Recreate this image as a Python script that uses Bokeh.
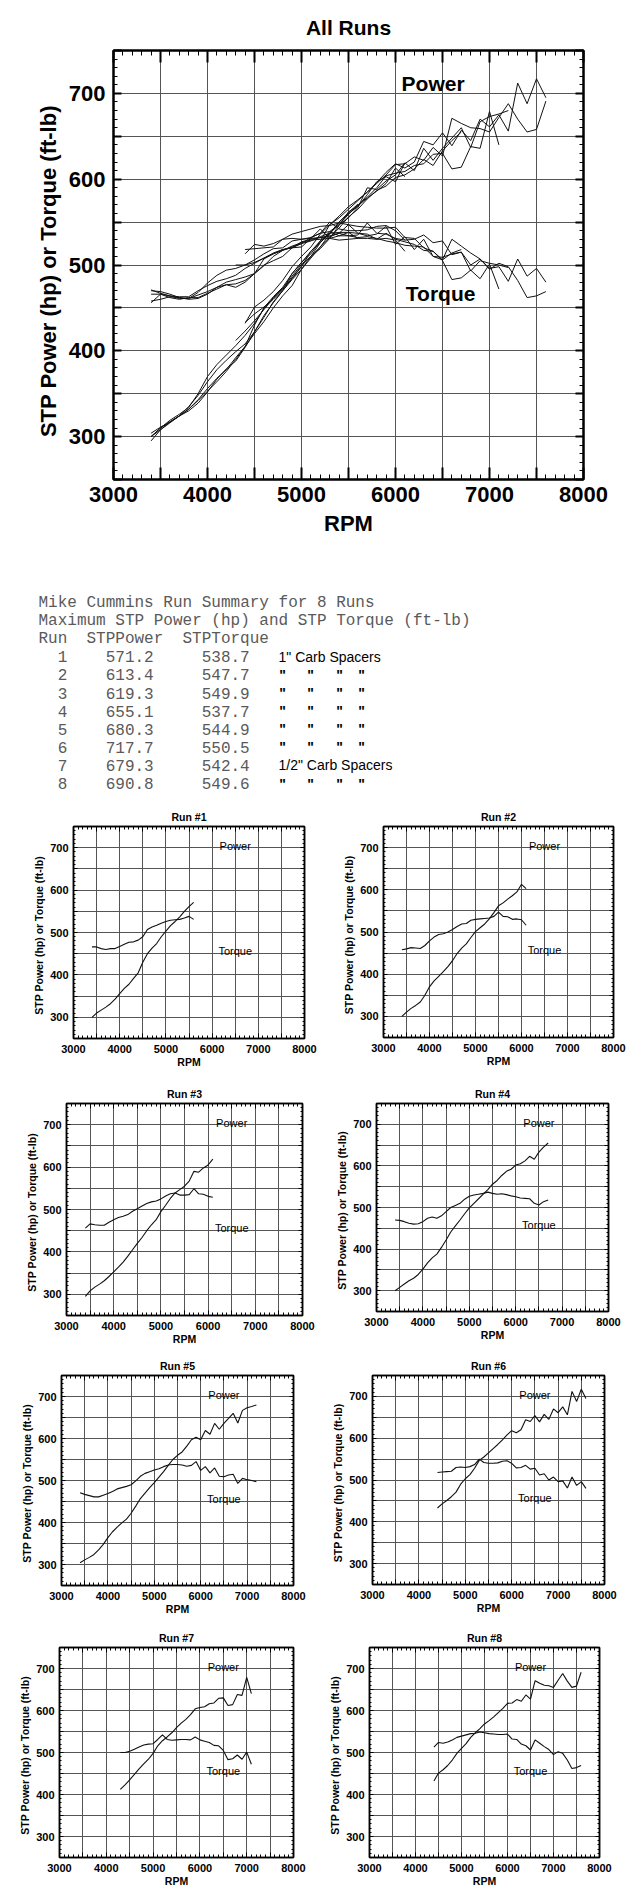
from bokeh.plotting import figure
from bokeh.layouts import column, row
from bokeh.models import Range1d, LinearAxis, FixedTicker, CustomJSTickFormatter
from bokeh.core.properties import value
from bokeh.embed import file_html
from bokeh.resources import INLINE

# ---------------- data (read from the dyno sheets) ----------------
rpm_1 = [3400, 3500, 3600, 3700, 3800, 3900, 4000, 4100, 4200, 4300, 4400, 4500, 4600, 4700, 4800, 4900,
         5000, 5100, 5200, 5300, 5400, 5500, 5600]
power_1 = [300, 310, 317, 324, 332, 343, 356, 368, 378, 392, 405, 430, 450, 463, 474, 490,
           503, 516, 526, 537, 550, 561, 571]
torque_1 = [466, 466, 462, 460, 462, 462, 467, 472, 477, 478, 482, 490, 507, 513, 517, 522,
            526, 529, 530, 531, 534, 538, 531]

rpm_2 = [3400, 3500, 3600, 3700, 3800, 3900, 4000, 4100, 4200, 4300, 4400, 4500, 4600, 4700, 4800, 4900,
         5000, 5100, 5200, 5300, 5400, 5500, 5600, 5700, 5800, 5900, 6000, 6100]
power_2 = [300, 310, 319, 326, 334, 350, 370, 384, 395, 406, 418, 432, 449, 462, 472, 487,
           501, 510, 519, 531, 546, 562, 569, 578, 586, 595, 613, 603]
torque_2 = [458, 460, 463, 462, 461, 468, 479, 488, 494, 496, 500, 506, 513, 519, 520, 528,
            530, 531, 532, 533, 537, 547, 537, 536, 530, 531, 529, 516]

rpm_3 = [3400, 3500, 3600, 3700, 3800, 3900, 4000, 4100, 4200, 4300, 4400, 4500, 4600, 4700, 4800, 4900,
         5000, 5100, 5200, 5300, 5400, 5500, 5600, 5700, 5800, 5900, 6000, 6100]
power_3 = [295, 308, 317, 324, 332, 342, 353, 364, 376, 390, 405, 420, 434, 450, 464, 476,
           495, 510, 526, 539, 547, 555, 567, 590, 588, 598, 605, 619]
torque_3 = [456, 466, 464, 463, 463, 470, 476, 481, 484, 488, 496, 502, 508, 514, 518, 520,
            525, 532, 537, 539, 534, 534, 535, 549, 537, 536, 531, 529]

rpm_4 = [3400, 3500, 3600, 3700, 3800, 3900, 4000, 4100, 4200, 4300, 4400, 4500, 4600, 4700, 4800, 4900,
         5000, 5100, 5200, 5300, 5400, 5500, 5600, 5700, 5800, 5900, 6000, 6100, 6200, 6300, 6400, 6500,
         6600, 6700]
power_4 = [300, 308, 316, 324, 330, 339, 352, 367, 379, 388, 404, 422, 441, 456, 470, 485,
           499, 510, 521, 532, 543, 556, 565, 577, 587, 592, 602, 605, 612, 623, 616, 633,
           645, 655]
torque_4 = [470, 469, 466, 462, 460, 461, 466, 474, 477, 474, 480, 490, 500, 505, 510, 520,
            527, 530, 532, 534, 537, 534, 532, 533, 531, 528, 526, 523, 522, 521, 510, 506,
            514, 518]

rpm_5 = [3400, 3500, 3600, 3700, 3800, 3900, 4000, 4100, 4200, 4300, 4400, 4500, 4600, 4700, 4800, 4900,
         5000, 5100, 5200, 5300, 5400, 5500, 5600, 5700, 5800, 5900, 6000, 6100, 6200, 6300, 6400, 6500,
         6600, 6700, 6800, 6900, 7000, 7100, 7200]
power_5 = [304, 311, 317, 324, 335, 348, 364, 378, 389, 399, 408, 422, 439, 457, 470, 483,
           495, 508, 521, 536, 550, 560, 568, 582, 597, 603, 597, 619, 610, 636, 622, 636,
           648, 660, 637, 667, 673, 676, 680]
torque_5 = [471, 467, 464, 461, 461, 465, 469, 474, 480, 483, 486, 490, 499, 510, 517, 521,
            525, 528, 533, 537, 538, 538, 537, 534, 536, 545, 524, 533, 518, 530, 510, 509,
            513, 515, 493, 505, 502, 500, 497]

rpm_6 = [4400, 4500, 4600, 4700, 4800, 4900, 5000, 5100, 5200, 5300, 5400, 5500, 5600, 5700, 5800, 5900,
         6000, 6100, 6200, 6300, 6400, 6500, 6600, 6700, 6800, 6900, 7000, 7100, 7200, 7300, 7400, 7500,
         7600]
power_6 = [433, 443, 451, 460, 471, 490, 503, 513, 528, 547, 555, 565, 575, 585, 596, 608,
           618, 613, 620, 644, 640, 654, 639, 657, 645, 670, 661, 675, 656, 712, 688, 717,
           695]
torque_6 = [518, 519, 520, 521, 530, 531, 530, 532, 537, 550, 542, 540, 540, 541, 545, 546,
            540, 529, 530, 535, 526, 528, 512, 515, 500, 507, 496, 498, 481, 507, 487, 496,
            480]

rpm_7 = [4300, 4400, 4500, 4600, 4700, 4800, 4900, 5000, 5100, 5200, 5300, 5400, 5500, 5600, 5700, 5800,
         5900, 6000, 6100, 6200, 6300, 6400, 6500, 6600, 6700, 6800, 6900, 7000, 7100]
power_7 = [412, 423, 435, 448, 461, 473, 484, 498, 516, 528, 537, 547, 559, 570, 579, 590,
           604, 607, 609, 616, 618, 629, 630, 612, 614, 638, 636, 679, 640]
torque_7 = [500, 500, 503, 508, 513, 518, 520, 521, 531, 542, 531, 529, 530, 531, 531, 530,
            537, 530, 527, 524, 517, 516, 505, 483, 485, 494, 484, 501, 472]

rpm_8 = [4400, 4500, 4600, 4700, 4800, 4900, 5000, 5100, 5200, 5300, 5400, 5500, 5600, 5700, 5800, 5900,
         6000, 6100, 6200, 6300, 6400, 6500, 6600, 6700, 6800, 6900, 7000, 7100, 7200, 7300, 7400, 7500,
         7600]
power_8 = [432, 451, 459, 469, 482, 498, 510, 521, 536, 547, 557, 568, 576, 585, 595, 605,
           617, 618, 626, 622, 637, 627, 671, 665, 660, 659, 655, 672, 688, 670, 655, 658,
           691]
torque_8 = [513, 524, 522, 525, 530, 536, 539, 542, 545, 546, 549, 547, 545, 544, 543, 543,
            544, 532, 531, 520, 516, 506, 530, 522, 514, 507, 495, 502, 498, 482, 462, 464,
            469]

run_ids = [1, 2, 3, 4, 5, 6, 7, 8]
max_power = [571.2, 613.4, 619.3, 655.1, 680.3, 717.7, 679.3, 690.8]
max_torque = [538.7, 547.7, 549.9, 537.7, 544.9, 550.5, 542.4, 549.6]
run_notes = ['1" Carb Spacers', 'ditto', 'ditto', 'ditto', 'ditto', 'ditto', '1/2" Carb Spacers', 'ditto']

summary_title = "Mike Cummins Run Summary for 8 Runs"
summary_sub = "Maximum STP Power (hp) and STP Torque (ft-lb)"
summary_header = ["Run", "STPPower", "STPTorque"]

RUNS = [(rpm_1, power_1, torque_1), (rpm_2, power_2, torque_2), (rpm_3, power_3, torque_3),
        (rpm_4, power_4, torque_4), (rpm_5, power_5, torque_5), (rpm_6, power_6, torque_6),
        (rpm_7, power_7, torque_7), (rpm_8, power_8, torque_8)]

X_MAJOR = list(range(3000, 8001, 500))
X_MINOR = list(range(3000, 8001, 100))
Y_MAJOR = list(range(250, 751, 50))
Y_MINOR = list(range(250, 751, 10))

FONT = "Liberation Sans"
Y_TITLE = "STP Power (hp)  or  Torque (ft-lb)"


def build_chart(runs, width, height, left, top, fw, fh, title, title_offset, big, label_pos):
    if big:
        tick_fs, axis_fs, title_fs, note_fs = "22px", "22px", "21px", "21px"
        xs_major, xs_minor, ys_major, ys_minor = 12, 5, 8, 4
        frame_w, lw = 2, 1.0
        x_lab_so, x_ax_so, y_lab_so, y_ax_so, t_so = 7, 6, 8, 5, 23
        note_style = "bold"
    else:
        tick_fs, axis_fs, title_fs, note_fs = "11px", "10.5px", "10.5px", "11px"
        xs_major, xs_minor, ys_major, ys_minor = 5, 3, 4, 2
        frame_w, lw = 1.5, 1.1
        x_lab_so, x_ax_so, y_lab_so, y_ax_so, t_so = 6, 0, 5, 2, 7
        note_style = "normal"

    p = figure(width=width, height=height, frame_width=fw, frame_height=fh,
               x_range=Range1d(3000, 8000), y_range=Range1d(250, 750),
               output_backend="svg", toolbar_location=None, title=title,
               min_border_left=left, min_border_top=top,
               min_border_right=width - left - fw, min_border_bottom=height - top - fh)
    p.background_fill_color = "white"
    p.border_fill_color = "white"
    p.outline_line_color = "black"
    p.outline_line_width = frame_w

    p.title.align = "center"
    p.title.offset = title_offset
    p.title.standoff = t_so
    p.title.text_font = FONT
    p.title.text_font_size = title_fs
    p.title.text_font_style = "bold"
    p.title.text_color = "black"

    xt = FixedTicker(ticks=X_MAJOR, minor_ticks=X_MINOR)
    yt = FixedTicker(ticks=Y_MAJOR, minor_ticks=Y_MINOR)
    xf = CustomJSTickFormatter(code="return (Math.round(tick) % 1000 === 0) ? tick.toFixed(0) : '';")
    yf = CustomJSTickFormatter(code="return (Math.round(tick) % 100 === 0) ? tick.toFixed(0) : '';")
    blank = CustomJSTickFormatter(code="return '';")

    def style(ax, ticker, fmt, tmaj, tmin, labels):
        ax.ticker = ticker
        ax.formatter = fmt
        ax.major_tick_out = 0
        ax.minor_tick_out = 0
        ax.major_tick_in = tmaj
        ax.minor_tick_in = tmin
        ax.major_tick_line_width = 2 if big else 1
        ax.minor_tick_line_width = 1
        ax.major_tick_line_color = "black"
        ax.minor_tick_line_color = "black"
        ax.axis_line_width = frame_w
        ax.axis_line_color = "black"
        if labels:
            ax.major_label_text_font = FONT
            ax.major_label_text_font_size = tick_fs
            ax.major_label_text_font_style = "bold"
            ax.major_label_text_color = "black"
            ax.axis_label_text_font = FONT
            ax.axis_label_text_font_size = axis_fs
            ax.axis_label_text_font_style = "bold"
            ax.axis_label_text_color = "black"
        else:
            ax.major_label_text_font_size = "0px"
            ax.major_label_standoff = 0

    xa = p.xaxis[0]
    ya = p.yaxis[0]
    style(xa, xt, xf, xs_major, xs_minor, True)
    style(ya, yt, yf, ys_major, ys_minor, True)
    xa.axis_label = "RPM"
    xa.major_label_standoff = x_lab_so
    xa.axis_label_standoff = x_ax_so
    ya.axis_label = Y_TITLE
    ya.major_label_standoff = y_lab_so
    ya.axis_label_standoff = y_ax_so

    top_ax = LinearAxis()
    right_ax = LinearAxis()
    style(top_ax, xt, blank, xs_major, xs_minor, False)
    style(right_ax, yt, blank, ys_major, ys_minor, False)
    p.add_layout(top_ax, "above")
    p.add_layout(right_ax, "right")

    p.xgrid.ticker = xt
    p.ygrid.ticker = yt
    p.xgrid.grid_line_color = "#555555"
    p.ygrid.grid_line_color = "#555555"
    p.xgrid.grid_line_width = 1
    p.ygrid.grid_line_width = 1

    for rpm, pw, tq in runs:
        p.line(rpm, pw, line_color="#111111", line_width=lw)
        p.line(rpm, tq, line_color="#111111", line_width=lw)

    (px, py), (tx, ty) = label_pos
    p.text(x=[px, tx], y=[py, ty], text=["Power", "Torque"],
           text_font=value(FONT), text_font_size=note_fs, text_font_style=note_style,
           text_color="black", text_align="center", text_baseline="middle")
    return p


# ---------------- main chart ----------------
main = build_chart(RUNS, 640, 590, 113, 50, 470, 429, "All Runs", 13, True,
                   ((6400, 712), (6480, 467)))

# ---------------- summary text block ----------------
TXT_W = 640
TXT_H = 208
tp = figure(width=TXT_W, height=TXT_H, frame_width=TXT_W, frame_height=TXT_H,
            x_range=Range1d(0, TXT_W), y_range=Range1d(TXT_H, 0),
            output_backend="svg", toolbar_location=None,
            min_border_left=0, min_border_right=0, min_border_top=0, min_border_bottom=0,
            x_axis_type=None, y_axis_type=None)
tp.outline_line_color = None
tp.background_fill_color = "white"
tp.border_fill_color = "white"

MONO = value("Liberation Mono")
CH = 9.6
X0 = 38
LINE0 = 12
LSTEP = 18.1
mono_kw = dict(text_font=MONO, text_font_size="16px", text_color="#5a5a5a",
               text_baseline="middle", text_align="left")

tp.text(x=[X0, X0], y=[LINE0, LINE0 + LSTEP], text=[summary_title, summary_sub], **mono_kw)
tp.text(x=[X0, X0 + 5 * CH, X0 + 15 * CH], y=[LINE0 + 2 * LSTEP] * 3, text=summary_header, **mono_kw)

row_y = [LINE0 + (3 + i) * LSTEP for i in range(len(run_ids))]
tp.text(x=[X0 + 2 * CH] * len(run_ids), y=row_y, text=[str(r) for r in run_ids], **mono_kw)
tp.text(x=[X0 + 7 * CH] * len(run_ids), y=row_y, text=["%.1f" % v for v in max_power], **mono_kw)
tp.text(x=[X0 + 17 * CH] * len(run_ids), y=row_y, text=["%.1f" % v for v in max_torque], **mono_kw)

note_x, note_y, note_t = [], [], []
ditto_x, ditto_y = [], []
for yv, n in zip(row_y, run_notes):
    if n == "ditto":
        for dx in (282, 310, 339, 361):
            ditto_x.append(dx)
            ditto_y.append(yv)
    else:
        note_x.append(278)
        note_y.append(yv)
        note_t.append(n)
tp.text(x=note_x, y=note_y, text=note_t, text_font=value(FONT), text_font_size="14px",
        text_color="black", text_baseline="middle", text_align="left")
tp.text(x=ditto_x, y=ditto_y, text=['"'] * len(ditto_x), text_font=value(FONT),
        text_font_size="14px", text_font_style="bold", text_color="black",
        text_baseline="middle", text_align="center")

# ---------------- small per-run charts ----------------
# (row height, [(left, top, frame_w, frame_h, title offset) for left and right chart])
SMALL_ROWS = [
    (277, [(73, 23, 231, 212, 4), (63, 28, 230, 211, 0)]),
    (270, [(66, 21, 236, 212, 0), (56, 28, 232, 208, 10)]),
    (275, [(61, 24, 232, 210, 0), (52, 30, 232, 209, 4)]),
    (280, [(59, 23, 234, 210, 0), (49, 27, 230, 210, 4)]),
]
SMALL_LABELS = ((6500, 704), (6500, 457))

rows = []
k = 0
for rh, specs in SMALL_ROWS:
    figs = []
    for (l, t, fw, fh, off) in specs:
        figs.append(build_chart([RUNS[k]], 320, rh, l, t, fw, fh, "Run #%d" % run_ids[k], off,
                                False, SMALL_LABELS))
        k += 1
    rows.append(row(*figs, spacing=0))

page = column(row(main), row(tp), *rows, spacing=0)

open("out.html", "w").write(file_html(page, INLINE))
